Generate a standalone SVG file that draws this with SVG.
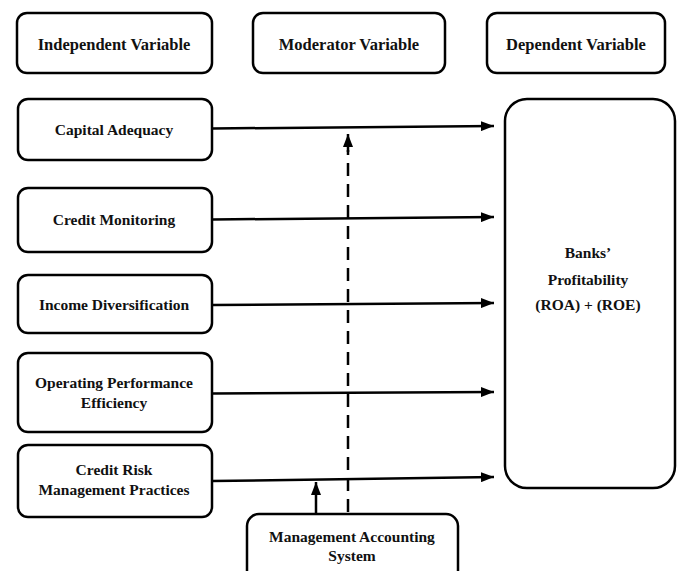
<svg xmlns="http://www.w3.org/2000/svg" width="680" height="571" viewBox="0 0 680 571" font-family="Liberation Serif, Times New Roman, serif">
<style>
.box{fill:#fff;stroke:#000;stroke-width:2.5}
.t{font-weight:bold;font-size:15.5px;fill:#111;text-anchor:middle}
.h{font-size:16.5px}
.c{stroke:#000;stroke-width:2.5;fill:none}
</style>
<defs>
<marker id="ah" viewBox="0 0 13 10" refX="13" refY="5" markerWidth="13" markerHeight="10" markerUnits="userSpaceOnUse" orient="auto">
<path d="M0,0 L13,5 L0,10 Z" fill="#000"/>
</marker>
</defs>
<rect width="680" height="571" fill="#fff"/>
<g id="hdr-independent"><rect class="box" x="17" y="13" width="195" height="60" rx="10"/><text class="t h" x="114" y="50">Independent Variable</text></g>
<g id="hdr-moderator"><rect class="box" x="253" y="13" width="192" height="60" rx="10"/><text class="t h" x="349" y="50">Moderator Variable</text></g>
<g id="hdr-dependent"><rect class="box" x="487" y="13" width="178" height="60" rx="10"/><text class="t h" x="576" y="50">Dependent Variable</text></g>
<g id="capital"><rect class="box" x="18" y="99" width="194" height="61" rx="10"/><text class="t" x="114" y="135">Capital Adequacy</text></g>
<g id="monitoring"><rect class="box" x="18" y="188" width="194" height="64" rx="10"/><text class="t" x="114" y="225">Credit Monitoring</text></g>
<g id="income"><rect class="box" x="18" y="275" width="194" height="58" rx="10"/><text class="t" x="114" y="310">Income Diversification</text></g>
<g id="operating"><rect class="box" x="18" y="353" width="194" height="79" rx="10"/><text class="t" x="114" y="388">Operating Performance</text><text class="t" x="114" y="408">Efficiency</text></g>
<g id="creditrisk"><rect class="box" x="18" y="445" width="194" height="72" rx="10"/><text class="t" x="114" y="475">Credit Risk</text><text class="t" x="114" y="495">Management Practices</text></g>
<g id="profitability"><rect class="box" x="505" y="99" width="170" height="389" rx="22"/><text class="t" x="588" y="258">Banks’</text><text class="t" x="588" y="285">Profitability</text><text class="t" x="588" y="310">(ROA) + (ROE)</text></g>
<g id="mas"><rect class="box" x="247" y="514" width="211" height="70" rx="12"/><text class="t" x="352" y="542">Management Accounting</text><text class="t" x="352" y="561">System</text></g>
<g id="connectors">
<line class="c" x1="212" y1="128.5" x2="494" y2="126" marker-end="url(#ah)"/>
<line class="c" x1="212" y1="219.5" x2="494" y2="217" marker-end="url(#ah)"/>
<line class="c" x1="212" y1="305" x2="494" y2="303" marker-end="url(#ah)"/>
<line class="c" x1="212" y1="393.5" x2="494" y2="392" marker-end="url(#ah)"/>
<line class="c" x1="212" y1="481" x2="494" y2="477" marker-end="url(#ah)"/>
<line class="c" x1="348" y1="512" x2="348" y2="150" stroke-dasharray="13,8"/>
<line class="c" x1="348" y1="152" x2="348" y2="134" marker-end="url(#ah)"/>
<line class="c" x1="316" y1="513" x2="316" y2="482" marker-end="url(#ah)"/>
</g>
</svg>
